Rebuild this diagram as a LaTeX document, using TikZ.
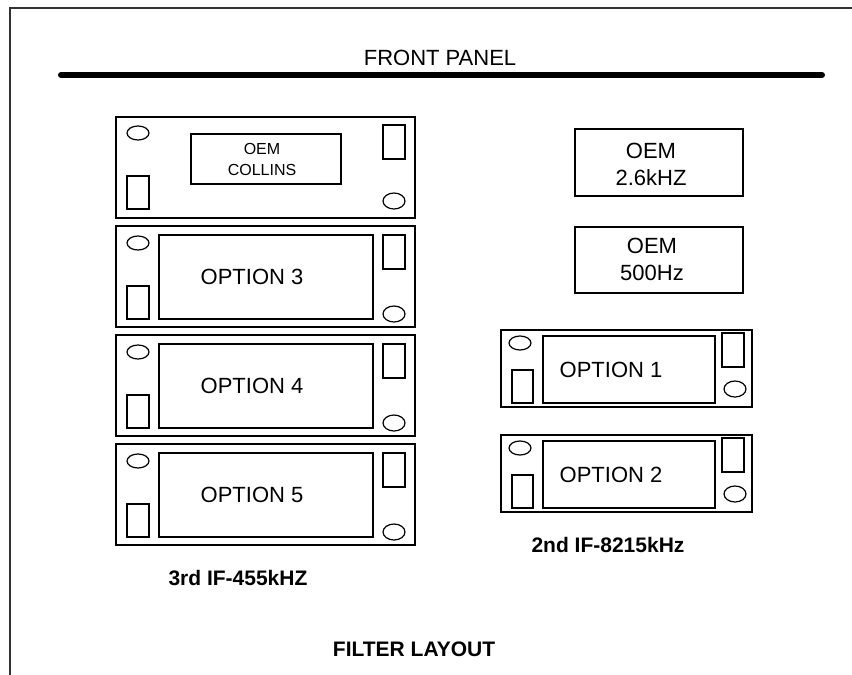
\documentclass[tikz,border=0pt]{standalone}
\usepackage{fontspec}
\setmainfont{Liberation Sans}
\newcommand\LeftBoard[5]{% x, y, box name, label, text shift
  \begin{scope}[shift={(#1,#2)}]
    \draw[board] (0,0) rectangle (299,101);
    \draw[part] (22,17) ellipse [x radius=11pt, y radius=7pt];
    \draw[part] (267,9) rectangle (289,43);
    \draw[part] (11,60) rectangle (33,93);
    \draw[part] (278,88) ellipse [x radius=11pt, y radius=8pt];
    \node[part, minimum width=214pt, minimum height=84pt, inner sep=0pt] (#3) at (150,51) {};
    \node[lbl] (#3t) at ([xshift=#5]#3.center) {#4};
  \end{scope}}
\newcommand\RightBoard[4]{% x, y, box name, label
  \begin{scope}[shift={(#1,#2)}]
    \draw[board] (0,0) rectangle (251,77);
    \draw[part] (19,13) ellipse [x radius=11pt, y radius=7pt];
    \draw[part] (11,40) rectangle (32,73);
    \draw[part] (221,3) rectangle (243,37);
    \draw[part] (234,59) ellipse [x radius=11pt, y radius=8pt];
    \node[part, minimum width=172pt, minimum height=67pt, inner sep=0pt] (#3) at (128,39.5) {};
    \node[lbl] (#3t) at ([xshift=-18pt]#3.center) {#4};
  \end{scope}}
\begin{document}
\begin{tikzpicture}[x=1pt,y=-1pt,
  frame/.style={draw=black!80, line width=2pt},
  board/.style={draw=black, line width=1.4pt},
  part/.style={draw=black, line width=1.2pt},
  lbl/.style={font=\fontsize{22}{27}\selectfont, align=center, inner sep=0pt},
  small/.style={font=\fontsize{16}{21}\selectfont, align=center, inner sep=0pt},
  bold/.style={font=\fontsize{21}{25}\selectfont\bfseries, inner sep=0pt}]
\useasboundingbox (0,0) rectangle (852,675);
\fill[white] (0,0) rectangle (852,675);
% frame
\coordinate (ftr) at (852,8);
\coordinate (ftl) at (10,8);
\coordinate (fbl) at (10,675);
\draw[frame] (ftr) -- (ftl) -- (fbl);
% front panel
\node[lbl] (fp) at (440,58) {FRONT PANEL};
\coordinate (pl) at (61,75);
\coordinate (pr) at (822,75);
\draw[line width=6pt, line cap=round] (pl) -- (pr);
% left column
\begin{scope}[shift={(116,117)}]
  \draw[board] (0,0) rectangle (299,101);
  \draw[part] (22,16) ellipse [x radius=11pt, y radius=7pt];
  \draw[part] (267,8) rectangle (289,42);
  \draw[part] (11,59) rectangle (33,92);
  \draw[part] (278,84) ellipse [x radius=11pt, y radius=8pt];
  \node[part, minimum width=150pt, minimum height=50pt, inner sep=0pt] (coll) at (150,42) {};
  \node[small] (collt) at ([xshift=-4pt]coll.center) {OEM\\COLLINS};
\end{scope}
\LeftBoard{116}{226}{op3}{OPTION 3}{-14pt}
\LeftBoard{116}{335}{op4}{OPTION 4}{-14pt}
\LeftBoard{116}{444}{op5}{OPTION 5}{-14pt}
% right column
\node[part, minimum width=168pt, minimum height=67pt, inner sep=0pt] (oem26) at (659,162.5) {};
\node[lbl] (oem26t) at ([xshift=-8pt,yshift=-2pt]oem26.center) {OEM\\2.6kHZ};
\node[part, minimum width=168pt, minimum height=66pt, inner sep=0pt] (oem500) at (659,260) {};
\node[lbl] (oem500t) at ([xshift=-7pt,yshift=1pt]oem500.center) {OEM\\500Hz};
\RightBoard{501}{330}{op1}{OPTION 1}
\RightBoard{501}{435}{op2}{OPTION 2}
% captions
\node[bold] (if2) at (608,545) {2nd IF-8215kHz};
\node[bold] (if3) at (238,578) {3rd IF-455kHZ};
\node[bold] (fl) at (414,649) {FILTER LAYOUT};
\end{tikzpicture}
\end{document}
